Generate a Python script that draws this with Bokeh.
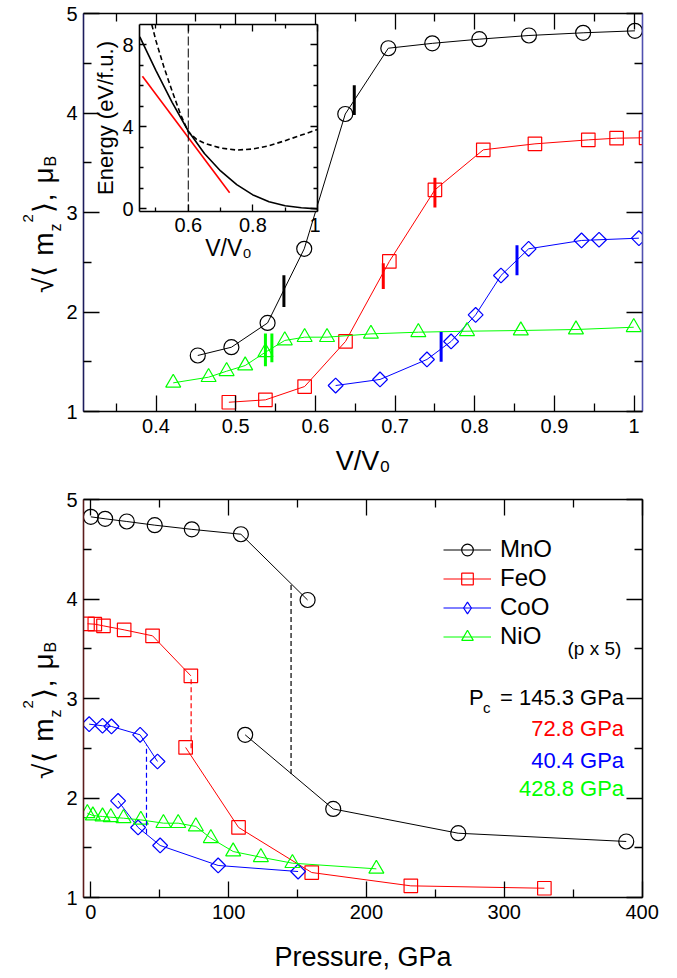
import math
from bokeh.plotting import figure
from bokeh.layouts import column
from bokeh.models import FixedTicker, LinearAxis, Range1d, Label, Legend, LegendItem, Span, Div
from bokeh.embed import file_html
from bokeh.resources import INLINE

FONT = "Liberation Sans"
BLACK, RED, BLUE, GREEN = "#000000", "#ff0000", "#0000ff", "#00ff00"

# ---------------- data ----------------
# volume ratio V/V0, local moment sqrt(<mz^2>) and pressure (GPa); first n_low points = low-volume branch
mno_v = [0.4524, 0.4946, 0.540, 0.586, 0.6375, 0.6915, 0.7467, 0.8057, 0.868, 0.936, 1.001]
mno_m = [1.563, 1.646, 1.890, 2.635, 3.990, 4.651, 4.700, 4.742, 4.779, 4.806, 4.826]
mno_p = [388.5, 266.6, 175.9, 112.0, 157.3, 108.9, 73.3, 46.4, 26.1, 10.4, 0.0]
mno_nlow = 4

feo_v = [0.4914, 0.5373, 0.5865, 0.6378, 0.6928, 0.750, 0.8107, 0.8755, 0.9425, 0.978, 1.015]
feo_m = [1.093, 1.117, 1.251, 1.704, 2.508, 3.228, 3.630, 3.690, 3.730, 3.747, 3.751]
feo_p = [329.1, 232.2, 160.3, 107.2, 68.8, 72.6, 44.8, 24.2, 9.2, 2.9, -2.4]
feo_nlow = 5

coo_v = [0.6254, 0.6811, 0.740, 0.7703, 0.8011, 0.8329, 0.8676, 0.934, 0.956, 1.006]
coo_m = [1.261, 1.322, 1.523, 1.704, 1.971, 2.367, 2.635, 2.719, 2.726, 2.742]
coo_p = [150.4, 92.4, 50.3, 34.3, 19.8, 48.4, 35.8, 15.0, 8.5, -1.2]
coo_nlow = 5

nio_v = [0.4216, 0.466, 0.4886, 0.5119, 0.5373, 0.5616, 0.5865, 0.6146, 0.6697, 0.7292, 0.7903, 0.8578, 0.927, 0.9995]
nio_m = [1.288, 1.345, 1.405, 1.462, 1.596, 1.714, 1.747, 1.747, 1.780, 1.797, 1.807, 1.814, 1.824, 1.847]
nio_p = [207.2, 146.3, 123.4, 103.3, 87.1, 76.2, 63.4, 52.7, 36.3, 23.7, 14.5, 8.5, 1.5, -2.5]
nio_nlow = 14

# transition markers (top panel)
bar_v = [0.5605, 0.6488, 0.6852, 0.750, 0.7578, 0.853, 0.5373, 0.5454]
bar_m = [2.21, 4.13, 2.36, 3.20, 1.65, 2.52, 1.62, 1.64]
bar_half = [0.16, 0.15, 0.13, 0.15, 0.15, 0.15, 0.165, 0.145]
bar_color = [BLACK, BLACK, RED, RED, BLUE, BLUE, GREEN, GREEN]

# critical pressures (bottom panel)
pc_p = [145.3, 72.8, 40.4]
pc_lo = [2.24, 2.50, 1.64]
pc_hi = [4.15, 3.22, 2.53]
pc_color = [BLACK, RED, BLUE]
pc_text = ["145.3 GPa", "72.8 GPa", "40.4 GPa", "428.8 GPa"]

# inset: energy vs volume
ins_v = [0.45, 0.5, 0.55, 0.6, 0.65, 0.7, 0.75, 0.8, 0.85, 0.9, 0.95, 1.0]
ins_e_ls = [8.4, 6.75, 5.2, 3.8, 2.7, 1.85, 1.18, 0.68, 0.35, 0.15, 0.05, 0.0]
ins_vd = [0.487, 0.5, 0.525, 0.55, 0.575, 0.6, 0.625, 0.65, 0.7, 0.75, 0.8, 0.85, 0.9, 0.95, 1.0]
ins_e_hs = [9.0, 8.2, 6.9, 5.75, 4.65, 3.75, 3.4, 3.2, 2.97, 2.87, 2.92, 3.08, 3.33, 3.6, 3.87]
tan_v = [0.458, 0.728]
tan_e = [6.47, 0.79]
v_cross = 0.6

# ticks
vx_ticks = [0.4, 0.5, 0.6, 0.7, 0.8, 0.9, 1.0]
vx_labels = ["0.4", "0.5", "0.6", "0.7", "0.8", "0.9", "1"]
vx_minor = [0.35, 0.45, 0.55, 0.65, 0.75, 0.85, 0.95]
m_ticks = [1, 2, 3, 4, 5]
m_labels = ["1", "2", "3", "4", "5"]
m_minor = [1.5, 2.5, 3.5, 4.5]
p_ticks = [0, 100, 200, 300, 400]
p_labels = ["0", "100", "200", "300", "400"]
p_minor = [50, 150, 250, 350]
iv_ticks = [0.6, 0.8, 1.0]
iv_labels = ["0.6", "0.8", "1"]
iv_minor = [0.5, 0.7, 0.9]
ie_ticks = [0, 4, 8]
ie_labels = ["0", "4", "8"]
ie_minor = [1, 2, 3, 5, 6, 7]

series = [
    ("MnO", mno_v, mno_m, mno_p, mno_nlow, BLACK, "circle", 15, 0.0, "circle"),
    ("FeO", feo_v, feo_m, feo_p, feo_nlow, RED, "square", 13.5, 0.0, "square"),
    ("CoO", coo_v, coo_m, coo_p, coo_nlow, BLUE, "square", 10.5, math.pi / 4, "diamond"),
    ("NiO", nio_v, nio_m, nio_p, nio_nlow, GREEN, "triangle", 15, 0.0, "triangle"),
]


def style_axis(ax, ticks, minor, labels, major_in, minor_in, color="black", show=True,
               fs="20px", standoff=7):
    ax.ticker = FixedTicker(ticks=ticks, minor_ticks=minor)
    ax.major_label_overrides = dict(zip(ticks, labels))
    ax.axis_line_color = color
    ax.axis_line_width = 1.6
    ax.major_tick_in = major_in
    ax.major_tick_out = 0
    ax.minor_tick_in = minor_in
    ax.minor_tick_out = 0
    ax.major_tick_line_color = "black"
    ax.minor_tick_line_color = "black"
    ax.major_tick_line_width = 1.3
    ax.minor_tick_line_width = 1.3
    ax.major_label_text_font = FONT
    ax.axis_label_text_font = FONT
    ax.axis_label_text_font_style = "normal"
    ax.axis_label_text_color = "black"
    if show:
        ax.major_label_text_color = "black"
        ax.major_label_text_font_size = fs
        ax.major_label_standoff = standoff
    else:
        ax.major_label_text_color = None
        ax.major_label_text_alpha = 0
        ax.major_label_text_font_size = "1px"
        ax.major_label_standoff = 0


def make_main(x_range, xt, xm, xl, left_color, right_color, mb_bottom, mb_top):
    p = figure(frame_width=559, frame_height=398, x_range=x_range, y_range=Range1d(1, 5),
               output_backend="svg", toolbar_location=None,
               min_border_left=83, min_border_right=20, min_border_top=mb_top,
               min_border_bottom=mb_bottom, background_fill_color="white",
               border_fill_color="white")
    p.grid.visible = False
    p.outline_line_color = None
    bottom_ax = p.below[0]
    left_ax = p.left[0]
    style_axis(bottom_ax, xt, xm, xl, 16, 8, standoff=7)
    style_axis(left_ax, m_ticks, m_minor, m_labels, 16, 8, color=left_color, standoff=6)
    top = LinearAxis()
    style_axis(top, xt, xm, xl, 16, 8, show=False)
    p.add_layout(top, "above")
    right = LinearAxis()
    style_axis(right, m_ticks, m_minor, m_labels, 16, 8, color=right_color, show=False)
    p.add_layout(right, "right")
    return p, bottom_ax


# composed y label: sqrt<m_z^2>, mu_B  (HTML text, rotated)
YLABEL_HTML = ("\u221a\u27e8 m"
               "<span style='position:relative;top:8px;font-size:16px'>z</span>"
               "<span style='position:relative;top:-20px;font-size:15px'>2</span>"
               "\u27e9, \u03bc"
               "<span style='position:relative;top:3px;font-size:16px'>B</span>")


def ylabel_div(top_px):
    return Div(text=YLABEL_HTML, styles={
        "position": "absolute", "left": "24.6px", "top": f"{top_px}px",
        "transform-origin": "0 0", "transform": "rotate(-90deg)",
        "font-family": FONT, "font-size": "28px", "line-height": "28px",
        "letter-spacing": "1px", "color": "black", "white-space": "nowrap",
        "z-index": "6"})


# ---------------- top panel ----------------
p1, p1x = make_main(Range1d(0.309, 1.0105), vx_ticks, vx_minor, vx_labels, "#1c1c5c", "#5050b0", 72, 13)
p1x.axis_label = "V/V\u2080"
p1x.axis_label_text_font_size = "27px"
p1x.axis_label_standoff = 10

for name, v, m, pr, nlow, col, mk, sz, ang, lmk in series:
    p1.line(v, m, line_color=col, line_width=1)
    p1.scatter(v, m, marker=mk, size=sz, angle=ang, line_color=col, fill_color=None, line_width=1.2)

p1.segment(x0=bar_v, y0=[c - h for c, h in zip(bar_m, bar_half)],
           x1=bar_v, y1=[c + h for c, h in zip(bar_m, bar_half)],
           line_color=bar_color, line_width=3)

# ---------------- bottom panel ----------------
p2, p2x = make_main(Range1d(-5.3, 400.3), p_ticks, p_minor, p_labels, "#5c1c1c", "black", 80, 16)
p2x.axis_label = "Pressure, GPa"
p2x.axis_label_text_font_size = "27px"
p2x.axis_label_standoff = 20

items = []
for name, v, m, pr, nlow, col, mk, sz, ang, lmk in series:
    if nlow < len(pr):
        xs = pr[:nlow] + [float("nan")] + pr[nlow:]
        ys = m[:nlow] + [float("nan")] + m[nlow:]
    else:
        xs, ys = pr, m
    lr = p2.line(xs, ys, line_color=col, line_width=1)
    p2.scatter(pr, m, marker=mk, size=sz, angle=ang, line_color=col, fill_color=None,
               line_width=1.2)
    # legend-only marker renderer (a single undefined point, nothing drawn in the plot)
    kr = p2.scatter([float("nan")], [float("nan")], marker=lmk, size=sz, line_color=col,
                    fill_color=None, line_width=1.2)
    items.append(LegendItem(label=name, renderers=[lr, kr]))

p2.segment(x0=pc_p, y0=pc_lo, x1=pc_p, y1=pc_hi, line_color=pc_color, line_width=1.2,
           line_dash="5 3")

legend = Legend(items=items, location=(360, 246.5), label_text_font=FONT,
                label_text_font_size="24px", label_text_color="black", glyph_width=48,
                glyph_height=29, label_height=29, spacing=0, padding=0, margin=0,
                label_standoff=9, border_line_color=None, background_fill_alpha=0)
p2.add_layout(legend)

p2.add_layout(Label(x=484, y=249, x_units="screen", y_units="screen", text="(p x 5)",
                    text_font=FONT, text_font_size="19px", text_color="black",
                    text_align="left", text_baseline="alphabetic"))
p2.add_layout(Label(x=385.6, y=200, x_units="screen", y_units="screen", text="P",
                    text_font=FONT, text_font_size="22px", text_color="black",
                    text_align="left", text_baseline="alphabetic"))
p2.add_layout(Label(x=399.5, y=190, x_units="screen", y_units="screen", text="c",
                    text_font=FONT, text_font_size="15px", text_color="black",
                    text_align="left", text_baseline="alphabetic"))
pc_cols = [BLACK, RED, BLUE, GREEN]
pc_y = [200, 169, 137, 109]
for i, (t, c, yy) in enumerate(zip(pc_text, pc_cols, pc_y)):
    txt = "= " + t if i == 0 else t
    p2.add_layout(Label(x=540.6, y=yy, x_units="screen", y_units="screen", text=txt,
                        text_font=FONT, text_font_size="22px", text_color=c,
                        text_align="right", text_baseline="alphabetic"))

# ---------------- inset ----------------
p3 = figure(frame_width=178, frame_height=187, x_range=Range1d(0.449, 1.0),
            y_range=Range1d(-0.13, 9.0), output_backend="svg", toolbar_location=None,
            min_border_left=83, min_border_right=3, min_border_top=4, min_border_bottom=75,
            background_fill_color="white", border_fill_color=None)
p3.grid.visible = False
p3.outline_line_color = None
p3x, p3y = p3.below[0], p3.left[0]
style_axis(p3x, iv_ticks, iv_minor, iv_labels, 7, 4, standoff=6)
style_axis(p3y, ie_ticks, ie_minor, ie_labels, 7, 4, standoff=6)
p3x.axis_label = "V/V\u2080"
p3x.axis_label_text_font_size = "23px"
p3x.axis_label_standoff = 0
p3y.axis_label = "Energy (eV/f.u.)"
p3y.axis_label_text_font_size = "22px"
p3y.axis_label_standoff = 1
ta = LinearAxis()
style_axis(ta, iv_ticks, iv_minor, iv_labels, 7, 4, show=False)
p3.add_layout(ta, "above")
ra = LinearAxis()
style_axis(ra, ie_ticks, ie_minor, ie_labels, 7, 4, show=False)
p3.add_layout(ra, "right")

p3.add_layout(Span(location=v_cross, dimension="height", line_color="black", line_width=1,
                   line_dash="9 3"))
p3.line(ins_v, ins_e_ls, line_color="black", line_width=1.6)
p3.line(ins_vd, ins_e_hs, line_color="black", line_width=1.6, line_dash="5 3")
p3.line(tan_v, tan_e, line_color=RED, line_width=1.6)

p3.styles = {"position": "absolute", "left": "56.3px", "top": "20.3px", "z-index": "5"}

lab1 = ylabel_div(288)
lab2 = ylabel_div(774)

layout = column(p1, p2, p3, lab1, lab2)
open("out.html", "w").write(file_html(layout, INLINE))
